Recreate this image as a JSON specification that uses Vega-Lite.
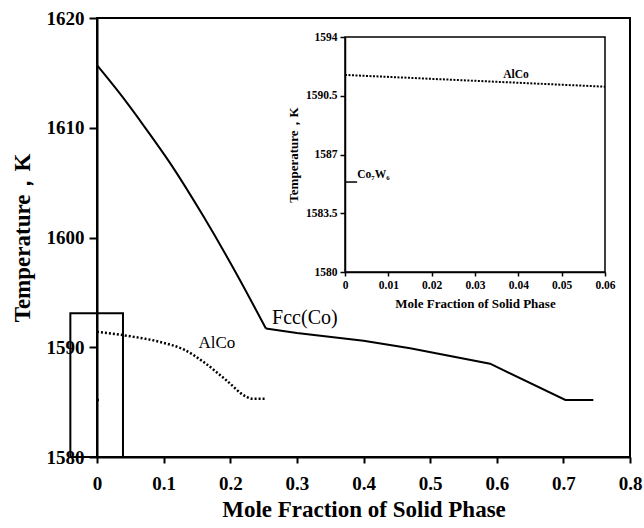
{
  "$schema": "https://vega.github.io/schema/vega-lite/v6.json",
  "width": 533,
  "height": 439,
  "autosize": "none",
  "padding": {"left": 97, "top": 18, "right": 14, "bottom": 71},
  "background": "white",
  "config": {
    "view": {"stroke": "black", "strokeWidth": 2},
    "font": "Liberation Serif",
    "axis": {"grid": false, "domainColor": "black", "tickColor": "black", "labelColor": "black", "titleColor": "black"}
  },
  "datasets": {
    "main": [
      {"series": "FccA", "x": 0, "y": 1615.7},
      {"series": "FccA", "x": 0.0345, "y": 1613.1},
      {"series": "FccA", "x": 0.07, "y": 1610.2},
      {"series": "FccA", "x": 0.1095, "y": 1606.8},
      {"series": "FccA", "x": 0.1595, "y": 1601.95},
      {"series": "FccA", "x": 0.212, "y": 1596.4},
      {"series": "FccA", "x": 0.2535, "y": 1591.7},
      {"series": "FccB", "x": 0.2535, "y": 1591.7},
      {"series": "FccB", "x": 0.3, "y": 1591.3},
      {"series": "FccB", "x": 0.4, "y": 1590.6},
      {"series": "FccB", "x": 0.47, "y": 1589.9},
      {"series": "FccB", "x": 0.59, "y": 1588.5},
      {"series": "FccB", "x": 0.703, "y": 1585.2},
      {"series": "FccB", "x": 0.745, "y": 1585.2},
      {"series": "AlCo", "x": 0, "y": 1591.4},
      {"series": "AlCo", "x": 0.05, "y": 1591.0},
      {"series": "AlCo", "x": 0.1, "y": 1590.4},
      {"series": "AlCo", "x": 0.13, "y": 1589.8},
      {"series": "AlCo", "x": 0.159, "y": 1588.7},
      {"series": "AlCo", "x": 0.194, "y": 1587.0},
      {"series": "AlCo", "x": 0.224, "y": 1585.5},
      {"series": "AlCo", "x": 0.234, "y": 1585.3},
      {"series": "AlCo", "x": 0.252, "y": 1585.3},
      {"series": "Co7W6", "x": 0, "y": 1585.2},
      {"series": "Co7W6", "x": 0.003, "y": 1585.2}
    ],
    "inset": [
      {"series": "AlCo", "x": 0, "y": 1591.74},
      {"series": "AlCo", "x": 0.06, "y": 1591.04},
      {"series": "Co7W6", "x": 0, "y": 1585.36},
      {"series": "Co7W6", "x": 0.0028, "y": 1585.36}
    ],
    "mainLabels": [
      {"label": "AlCo", "x": 0.18, "y": 1590.4, "size": 17},
      {"label": "Fcc(Co)", "x": 0.312, "y": 1592.7, "size": 20}
    ],
    "insetLabels": [
      {"label": "AlCo", "x": 0.0365, "y": 1591.75},
      {"label": "Co₇W₆", "x": 0.0028, "y": 1585.8}
    ],
    "box": [{"x": -0.04, "xe": 0.039, "y": 1580, "ye": 1593.1}],
    "insetFrame": [{"x": 0, "xe": 0.06, "y": 1580, "ye": 1594}]
  },
  "layer": [
    {
      "layer": [
        {
          "data": {"name": "main"},
          "transform": [{"filter": "datum.series === 'FccA'"}],
          "mark": {"type": "line", "color": "black", "strokeWidth": 2, "interpolate": "monotone"},
          "encoding": {
            "x": {
              "field": "x", "type": "quantitative",
              "scale": {"domain": [0, 0.8], "nice": false, "zero": false},
              "axis": {
                "title": "Mole Fraction of Solid Phase",
                "values": [0, 0.1, 0.2, 0.3, 0.4, 0.5, 0.6, 0.7, 0.8],
                "format": ".6~g",
                "labelFontSize": 19, "labelFontWeight": "bold", "labelFlush": false,
                "titleFontSize": 23, "titleFontWeight": "bold",
                "tickSize": 6, "tickWidth": 2, "domainWidth": 2,
                "labelPadding": 11, "titlePadding": 5
              }
            },
            "y": {
              "field": "y", "type": "quantitative",
              "scale": {"domain": [1580, 1620], "nice": false, "zero": false},
              "axis": {
                "title": "Temperature，K",
                "values": [1580, 1590, 1600, 1610, 1620],
                "format": ".6~g",
                "labelFontSize": 19, "labelFontWeight": "bold", "labelFlush": false,
                "titleFontSize": 23, "titleFontWeight": "bold",
                "tickSize": 8, "tickWidth": 2, "domainWidth": 2,
                "labelPadding": 5, "titlePadding": 12
              }
            }
          }
        },
        {
          "data": {"name": "main"},
          "transform": [{"filter": "datum.series === 'FccB'"}],
          "mark": {"type": "line", "color": "black", "strokeWidth": 2},
          "encoding": {
            "x": {"field": "x", "type": "quantitative"},
            "y": {"field": "y", "type": "quantitative"}
          }
        },
        {
          "data": {"name": "main"},
          "transform": [{"filter": "datum.series === 'AlCo'"}],
          "mark": {"type": "line", "color": "black", "strokeWidth": 2.5, "strokeDash": [2, 2], "interpolate": "monotone"},
          "encoding": {
            "x": {"field": "x", "type": "quantitative"},
            "y": {"field": "y", "type": "quantitative"}
          }
        },
        {
          "data": {"name": "main"},
          "transform": [{"filter": "datum.series === 'Co7W6'"}],
          "mark": {"type": "line", "color": "black", "strokeWidth": 2.5},
          "encoding": {
            "x": {"field": "x", "type": "quantitative"},
            "y": {"field": "y", "type": "quantitative"}
          }
        },
        {
          "data": {"name": "box"},
          "mark": {"type": "rect", "filled": false, "stroke": "black", "strokeWidth": 2},
          "encoding": {
            "x": {"field": "x", "type": "quantitative"},
            "x2": {"field": "xe"},
            "y": {"field": "y", "type": "quantitative"},
            "y2": {"field": "ye"}
          }
        },
        {
          "data": {"name": "mainLabels"},
          "mark": {"type": "text", "color": "black", "font": "Liberation Serif", "align": "center", "baseline": "middle"},
          "encoding": {
            "x": {"field": "x", "type": "quantitative"},
            "y": {"field": "y", "type": "quantitative"},
            "text": {"field": "label"},
            "size": {"field": "size", "type": "quantitative", "scale": null}
          }
        }
      ]
    },
    {
      "layer": [
        {
          "data": {"name": "insetFrame"},
          "mark": {"type": "rect", "filled": false, "stroke": "black", "strokeWidth": 1.5},
          "encoding": {
            "x": {
              "field": "x", "type": "quantitative",
              "scale": {"domain": [0, 0.06], "range": [248, 508], "nice": false, "zero": false},
              "axis": {
                "orient": "bottom", "offset": -185,
                "title": "Mole Fraction of Solid Phase",
                "values": [0, 0.01, 0.02, 0.03, 0.04, 0.05, 0.06],
                "format": ".6~g",
                "labelFontSize": 11.5, "labelFontWeight": "bold", "labelFlush": false,
                "titleFontSize": 13, "titleFontWeight": "bold",
                "tickSize": 4, "tickWidth": 1.5, "domainWidth": 1.5,
                "labelPadding": 3, "titlePadding": 7
              }
            },
            "x2": {"field": "xe"},
            "y": {
              "field": "y", "type": "quantitative",
              "scale": {"domain": [1580, 1594], "range": [254, 19], "nice": false, "zero": false},
              "axis": {
                "orient": "left", "offset": -248,
                "title": "Temperature，K",
                "values": [1580, 1583.5, 1587, 1590.5, 1594],
                "format": ".6~g",
                "labelFontSize": 11.5, "labelFontWeight": "bold", "labelFlush": false,
                "titleFontSize": 13, "titleFontWeight": "bold",
                "tickSize": 5, "tickWidth": 1.5, "domainWidth": 1.5,
                "labelPadding": 3, "titlePadding": 5
              }
            },
            "y2": {"field": "ye"}
          }
        },
        {
          "data": {"name": "inset"},
          "transform": [{"filter": "datum.series === 'AlCo'"}],
          "mark": {"type": "line", "color": "black", "strokeWidth": 2, "strokeDash": [2, 1.5]},
          "encoding": {
            "x": {"field": "x", "type": "quantitative"},
            "y": {"field": "y", "type": "quantitative"}
          }
        },
        {
          "data": {"name": "inset"},
          "transform": [{"filter": "datum.series === 'Co7W6'"}],
          "mark": {"type": "line", "color": "black", "strokeWidth": 1.5},
          "encoding": {
            "x": {"field": "x", "type": "quantitative"},
            "y": {"field": "y", "type": "quantitative"}
          }
        },
        {
          "data": {"name": "insetLabels"},
          "mark": {"type": "text", "color": "black", "font": "Liberation Serif", "fontSize": 11.5, "fontWeight": "bold", "align": "left", "baseline": "middle"},
          "encoding": {
            "x": {"field": "x", "type": "quantitative"},
            "y": {"field": "y", "type": "quantitative"},
            "text": {"field": "label"}
          }
        }
      ]
    }
  ],
  "resolve": {
    "scale": {"x": "independent", "y": "independent"},
    "axis": {"x": "independent", "y": "independent"}
  }
}
